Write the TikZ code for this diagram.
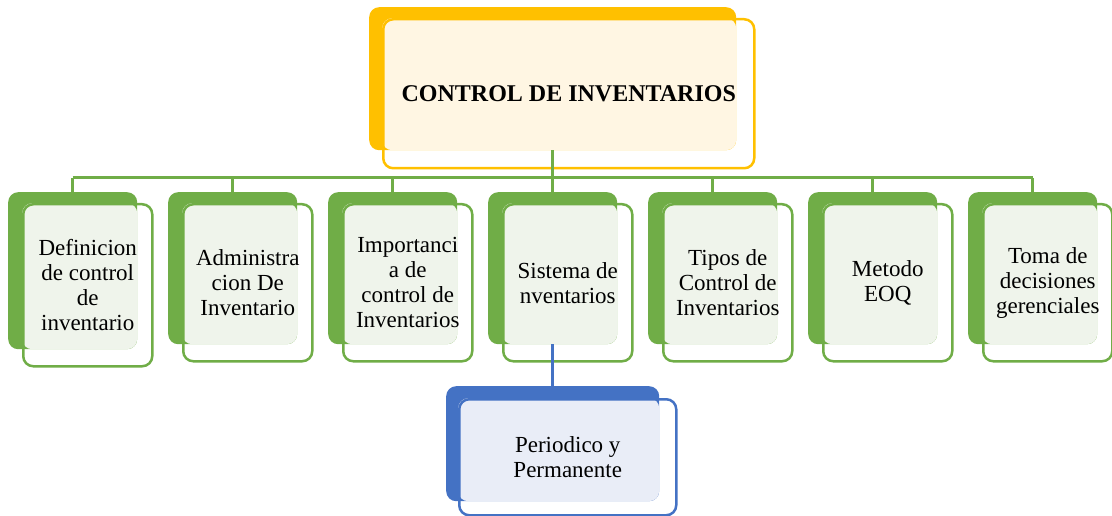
\documentclass[tikz,border=0pt]{standalone}
\usepackage{fontspec}
\setmainfont{Liberation Serif}
\usepackage{tikz}
\definecolor{oro}{HTML}{FFC000}
\definecolor{orotinte}{HTML}{FFF6E3}
\definecolor{verde}{HTML}{70AD47}
\definecolor{verdetinte}{HTML}{EFF4EB}
\definecolor{azul}{HTML}{4472C4}
\definecolor{azultinte}{HTML}{E9EDF7}
\tikzstyle{caja}=[rectangle, rounded corners=10pt, inner sep=0pt, anchor=north west]
\tikzset{
  fondo/.style={caja, fill=#1},
  tinte/.style={caja, fill=#1},
  marco/.style={caja, draw=#1, line width=2.5pt, align=center, font=\fontsize{23}{25}\selectfont},
  linea/.style={draw=#1, line width=3pt}
}

\begin{document}
\begin{tikzpicture}[x=1pt, y=-1pt]
                    \useasboundingbox (0,0) rectangle (1112,516);
                    \node[fondo=oro, minimum width=367, minimum height=143] (topB) at (369,7) {};
                    \node[tinte=orotinte, minimum width=354, minimum height=132] (topT) at (382,18) {};
                    \node[marco=oro, minimum width=371, minimum height=149, font=\bfseries\fontsize{24}{28}\selectfont] (top) at (382,18) {CONTROL DE INVENTARIOS};
                    \foreach \n/\x/\h/\t in {def/8/5/{Definicion\\de control\\de\\inventario},
                                             adm/168/0/{Administra\\cion De\\Inventario},
                                             imp/328/0/{Importanci\\a de\\control de\\Inventarios},
                                             sis/488/0/{Sistema de\\nventarios},
                                             tip/648/0/{Tipos de\\Control de\\Inventarios},
                                             eoq/808/0/{Metodo\\EOQ},
                                             tom/968/0/{Toma de\\decisiones\\gerenciales}} {
                        \node[fondo=verde, minimum width=129, minimum height=152+\h] (\n B) at (\x,192) {};
                        \node[tinte=verdetinte, minimum width=115, minimum height=141+\h] (\n T) at (\x+14,203) {};
                        \node[marco=verde, minimum width=129, minimum height=157+\h] (\n) at (\x+14,203) {\t};
                    }
                    \node[fondo=azul, minimum width=213, minimum height=115] (perB) at (446,386) {};
                    \node[tinte=azultinte, minimum width=201, minimum height=103] (perT) at (458,398) {};
                    \node[marco=azul, minimum width=217, minimum height=116] (per) at (458,398) {Periodico y\\Permanente};
                    \coordinate (bus) at (553,178);
                    \draw[linea=verde] (topB.south) -- (topB.south |- bus);
                    \draw[linea=verde] (defB.north |- bus) -- (tomB.north |- bus);
                    \foreach \n in {def,adm,imp,sis,tip,eoq,tom}
                        \draw[linea=verde] (\n B.north |- bus) -- (\n B.north);
                    \draw[linea=azul] (sisB.south) -- (perB.north);
                \end{tikzpicture}
\end{document}
